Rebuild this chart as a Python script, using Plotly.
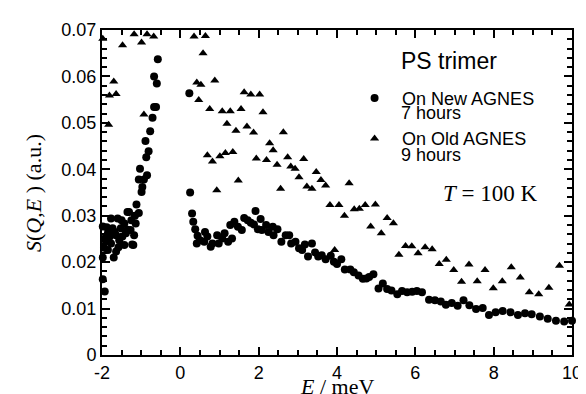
import plotly.graph_objects as go

# New AGNES (circles): energy transfer E (meV) and S(Q,E) (a.u.)
new_E = [-1.98, -1.93, -1.98, -1.95, -1.93, -1.98, -1.90, -1.88, -1.85, -1.85, -1.80,
         -1.77, -1.77, -1.73, -1.70, -1.68, -1.64, -1.64, -1.60, -1.58, -1.56, -1.52,
         -1.50, -1.48, -1.43, -1.43, -1.39, -1.35, -1.35, -1.31, -1.27, -1.25, -1.23,
         -1.20, -1.18, -1.16, -1.14, -1.12, -1.06, -1.06, -1.03, -0.99, -0.97, -0.93,
         -0.89, -0.87, -0.85, -0.81, -0.77, -0.71, -0.67, -0.62, -0.60, -0.67, -0.575,
         0.23, 0.25, 0.30, 0.33, 0.38, 0.42, 0.44, 0.50, 0.61, 0.63, 0.69, 0.775, 0.82,
         0.94, 0.98, 1.07, 1.13, 1.22, 1.275, 1.32, 1.38, 1.47, 1.57, 1.63, 1.72, 1.80,
         1.88, 1.92, 1.98, 2.05, 2.08, 2.19, 2.25, 2.36, 2.38, 2.48, 2.58, 2.69, 2.78,
         2.83, 2.94, 3.03, 3.11, 3.18, 3.26, 3.36, 3.44, 3.52, 3.61, 3.71, 3.84, 3.92,
         4.00, 4.11, 4.20, 4.34, 4.43, 4.55, 4.66, 4.75, 4.82, 4.93, 5.06, 5.17, 5.28,
         5.39, 5.54, 5.66, 5.79, 5.92, 6.04, 6.17, 6.35, 6.50, 6.65, 6.78, 6.93, 7.08,
         7.23, 7.38, 7.55, 7.72, 7.88, 8.05, 8.23, 8.43, 8.62, 8.80, 8.97, 9.18, 9.38,
         9.59, 9.80, 10.0]
new_S = [0.0163, 0.0137, 0.0210, 0.0231, 0.0251, 0.0277, 0.0245, 0.0275, 0.0226, 0.0262, 0.0255,
         0.0294, 0.0240, 0.0273, 0.0210, 0.0265, 0.0258, 0.0223, 0.0294, 0.0232, 0.0247, 0.0273,
         0.0290, 0.0255, 0.0283, 0.0237, 0.0262, 0.0308, 0.0270, 0.0308, 0.0269, 0.0290, 0.0238,
         0.0237, 0.0258, 0.0300, 0.0283, 0.0324, 0.0306, 0.0378, 0.0401, 0.0351, 0.0362, 0.0378,
         0.0461, 0.0426, 0.0387, 0.0439, 0.0482, 0.0511, 0.0534, 0.0534, 0.0585, 0.0600, 0.0637,
         0.0564, 0.0350, 0.0305, 0.0287, 0.0271, 0.0240, 0.0257, 0.0247, 0.0244, 0.0265, 0.0255, 0.0233, 0.0240,
         0.0258, 0.0240, 0.0251, 0.0262, 0.0244, 0.0280, 0.0251, 0.0287, 0.0276, 0.0269, 0.0295, 0.0290, 0.0285,
         0.0281, 0.0310, 0.0271, 0.0293, 0.0269, 0.0280, 0.0265, 0.0276, 0.0258, 0.0271, 0.0244, 0.0258, 0.0258,
         0.0240, 0.0244, 0.0230, 0.0226, 0.0238, 0.0212, 0.0240, 0.0221, 0.0212, 0.0215, 0.0206, 0.0214, 0.0201,
         0.0196, 0.0206, 0.0184, 0.0184, 0.0178, 0.0171, 0.0164, 0.0165, 0.0168, 0.0174, 0.0143, 0.0154, 0.0142,
         0.0139, 0.0131, 0.0138, 0.0135, 0.0136, 0.0138, 0.0135, 0.0119, 0.0118, 0.0115, 0.0108, 0.0112, 0.0106,
         0.0118, 0.0107, 0.0099, 0.0101, 0.0086, 0.0092, 0.0095, 0.0092, 0.0086, 0.0090, 0.0088, 0.0083, 0.0078,
         0.0074, 0.0072, 0.0074]

# Old AGNES (triangles)
old_E = [-1.98, -1.83, -1.81, -1.70, -1.64, -1.475, -1.18, -0.99, -0.93, -0.85, -0.68,
         0.35, 0.42, 0.47, 0.525, 0.58, 0.64, 0.69, 0.75, 0.82, 0.88, 0.93, 1.01, 1.07,
         1.15, 1.19, 1.275, 1.34, 1.42, 1.48, 1.55, 1.63, 1.70, 1.80, 1.87, 1.94, 2.025,
         2.11, 2.20, 2.28, 2.37, 2.47, 2.56, 2.63, 2.74, 2.82, 2.93, 3.03, 3.15, 3.23,
         3.36, 3.47, 3.59, 3.71, 3.82, 3.94, 4.05, 4.19, 4.31, 4.44, 4.57, 4.72, 4.86,
         4.98, 5.13, 5.28, 5.44, 5.58, 5.75, 5.91, 6.07, 6.25, 6.43, 6.61, 6.79, 6.98,
         7.18, 7.37, 7.58, 7.78, 7.99, 8.22, 8.45, 8.68, 8.91, 9.15, 9.41, 9.68, 9.93]
old_S = [0.0681, 0.0496, 0.0559, 0.0589, 0.0562, 0.0667, 0.0691, 0.0673, 0.0518, 0.0691, 0.0686,
         0.0686, 0.0587, 0.0549, 0.0582, 0.0650, 0.0687, 0.0430, 0.0530, 0.0417, 0.0591, 0.0355, 0.0428, 0.0525,
         0.0435, 0.0498, 0.0525, 0.0437, 0.0483, 0.0376, 0.0530, 0.0566, 0.0492, 0.0561, 0.0479, 0.0423, 0.0561,
         0.0523, 0.0420, 0.0456, 0.0441, 0.0410, 0.0358, 0.0480, 0.0426, 0.0406, 0.0401, 0.0383, 0.0422, 0.0363,
         0.0358, 0.0394, 0.0377, 0.0365, 0.0323, 0.0226, 0.0323, 0.0300, 0.0370, 0.0314, 0.0315, 0.0323, 0.0277,
         0.0324, 0.0262, 0.0295, 0.0284, 0.0216, 0.0235, 0.0234, 0.0219, 0.0232, 0.0228, 0.0196, 0.0205, 0.0183,
         0.0158, 0.0195, 0.0159, 0.0183, 0.0144, 0.0159, 0.0189, 0.0167, 0.0135, 0.0131, 0.0145, 0.0192, 0.0109]

x_tickvals = [-2, 0, 2, 4, 6, 8, 10]
x_ticktext = ["-2", "0", "2", "4", "6", "8", "10"]

SANS = "Liberation Sans, Arial, Helvetica, sans-serif"
SERIF = "Liberation Serif, Times New Roman, serif"

fig = go.Figure()
fig.add_trace(go.Scatter(
    x=new_E, y=new_S, mode="markers", name="On New AGNES", legendgroup="new",
    marker=dict(symbol="circle", size=8, color="black"), cliponaxis=False))
fig.add_trace(go.Scatter(
    x=old_E, y=old_S, mode="markers", name="On Old AGNES", legendgroup="old",
    marker=dict(symbol="triangle-up", size=8, color="black"), cliponaxis=False))

axis_common = dict(
    showline=True, linewidth=2, linecolor="black", mirror="ticks",
    ticks="inside", ticklen=8, tickwidth=1.5, tickcolor="black",
    showgrid=False, zeroline=False,
    tickfont=dict(family=SANS, size=18, color="black"),
)
fig.update_xaxes(range=[-2, 10], tickmode="array", tickvals=x_tickvals, ticktext=x_ticktext,
                 minor=dict(tick0=0, dtick=0.5, ticks="inside", ticklen=5, tickwidth=1.5,
                            tickcolor="black", showgrid=False),
                 **axis_common)
fig.update_yaxes(range=[0, 0.07], tick0=0, dtick=0.01,
                 minor=dict(tick0=0, dtick=0.002, ticks="inside", ticklen=5, tickwidth=1.5,
                            tickcolor="black", showgrid=False),
                 **axis_common)

ann = [
    dict(text="<i>S</i>(<i>Q</i>,<i>E</i> ) (a.u.)", xref="paper", yref="paper",
         x=(24 - 94) / 480, y=0.5, textangle=-90, showarrow=False,
         xanchor="center", yanchor="middle", font=dict(family=SERIF, size=22, color="black")),
    dict(text="<i>E</i> / meV", xref="paper", yref="paper",
         x=0.5, y=-(379 - 347) / 326, showarrow=False,
         xanchor="center", yanchor="middle", font=dict(family=SERIF, size=22, color="black")),
    dict(text="PS trimer", xref="paper", yref="paper",
         x=(397.5 - 94) / 480, y=(347 - 52.5) / 326, showarrow=False,
         xanchor="left", yanchor="middle", font=dict(family=SANS, size=23, color="black")),
    dict(text="7 hours", xref="paper", yref="paper",
         x=(397.5 - 94) / 480, y=(347 - 104) / 326, showarrow=False,
         xanchor="left", yanchor="middle", font=dict(family=SANS, size=18, color="black")),
    dict(text="9 hours", xref="paper", yref="paper",
         x=(397.5 - 94) / 480, y=(347 - 146) / 326, showarrow=False,
         xanchor="left", yanchor="middle", font=dict(family=SANS, size=18, color="black")),
    dict(text="<i>T</i> = 100 K", xref="paper", yref="paper",
         x=(491 - 94) / 480, y=(347 - 185) / 326, showarrow=False,
         xanchor="center", yanchor="middle", font=dict(family=SERIF, size=23, color="black")),
]

fig.update_layout(
    width=586, height=394,
    margin=dict(l=94, r=12, t=21, b=47),
    paper_bgcolor="white", plot_bgcolor="white",
    showlegend=True,
    legend=dict(x=(344.3 - 94) / 480, y=(347 - 71) / 326, xanchor="left", yanchor="top",
                bgcolor="rgba(0,0,0,0)", borderwidth=0, tracegroupgap=14, itemwidth=45,
                font=dict(family=SANS, size=18, color="black")),
    annotations=ann,
)

fig.write_html("out.html")
